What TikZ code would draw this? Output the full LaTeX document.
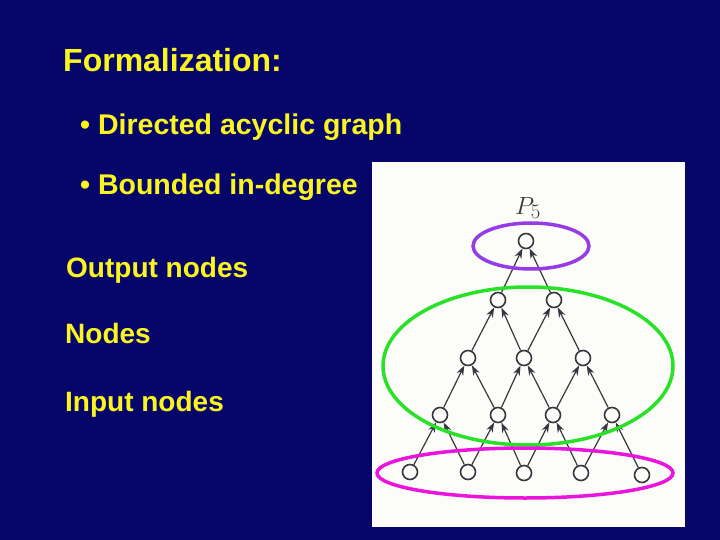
\documentclass[tikz,border=0pt]{standalone}
\usepackage{fontspec}
\setmainfont{Liberation Sans}
\usetikzlibrary{arrows.meta}
\definecolor{navy}{RGB}{6,6,106}
\definecolor{ytext}{RGB}{250,245,30}
\definecolor{panel}{RGB}{252,252,248}
\definecolor{edgec}{RGB}{55,55,65}
\definecolor{ringpurple}{RGB}{150,60,230}
\definecolor{ringgreen}{RGB}{40,225,40}
\definecolor{ringmagenta}{RGB}{235,20,220}
\tikzset{
  vtx/.style={circle,draw=edgec,fill=panel,line width=1.6pt,minimum size=15pt,inner sep=0pt},
  arc/.style={draw=edgec,line width=1.2pt,-{Stealth[length=10pt,width=7pt]}},
  ring/.style={line width=3.5pt},
  title/.style={anchor=base west,text=ytext,font=\bfseries\fontsize{32}{38}\selectfont,inner sep=0pt},
  bullet/.style={anchor=base west,text=ytext,font=\bfseries\fontsize{28.5}{34}\selectfont,inner sep=0pt},
  label/.style={anchor=base west,text=ytext,font=\bfseries\fontsize{28}{34}\selectfont,inner sep=0pt}
}
\begin{document}
\begin{tikzpicture}[x=1pt,y=-1pt]
\fill[navy] (0,0) rectangle (720,540);
\useasboundingbox (0,0) rectangle (720,540);
\fill[panel] (372,162) rectangle (685,527);

\node[title] (t) at (63,72) {Formalization:};
\node[bullet] (b1txt) at (80,135) {• Directed acyclic graph};
\node[bullet] (b2txt) at (80,195) {• Bounded in-degree};
\node[label] (lo) at (66,277) {Output nodes};
\node[label] (ln) at (65,343) {Nodes};
\node[label] (li) at (65,411) {Input nodes};

\node[text=edgec,font=\fontsize{31}{34}\selectfont] (p5) at (528,208) {$P_5$};

\node[vtx] (a) at (526,241) {};
\node[vtx] (b1) at (498,300) {};
\node[vtx] (b2) at (554,300) {};
\node[vtx] (c1) at (468,358) {};
\node[vtx] (c2) at (524,358) {};
\node[vtx] (c3) at (583,358) {};
\node[vtx] (d1) at (440,415) {};
\node[vtx] (d2) at (498,415) {};
\node[vtx] (d3) at (553,415) {};
\node[vtx] (d4) at (612,415) {};
\node[vtx] (e1) at (410,472) {};
\node[vtx] (e2) at (468,472) {};
\node[vtx] (e3) at (524,473) {};
\node[vtx] (e4) at (581,473) {};
\node[vtx] (e5) at (642,475) {};

\foreach \s/\t in {b1/a,b2/a,c1/b1,c2/b1,c2/b2,c3/b2,d1/c1,d2/c1,d2/c2,d3/c2,d3/c3,d4/c3,e1/d1,e2/d1,e2/d2,e3/d2,e3/d3,e4/d3,e4/d4,e5/d4}
  \draw[arc] (\s) -- (\t);

\draw[ring,ringpurple] (531,246) ellipse [x radius=58pt, y radius=23pt];
\draw[ring,ringgreen] (528,366) ellipse [x radius=145pt, y radius=79pt];
\draw[ring,ringmagenta] (525,473) ellipse [x radius=148pt, y radius=25pt];
\end{tikzpicture}
\end{document}
